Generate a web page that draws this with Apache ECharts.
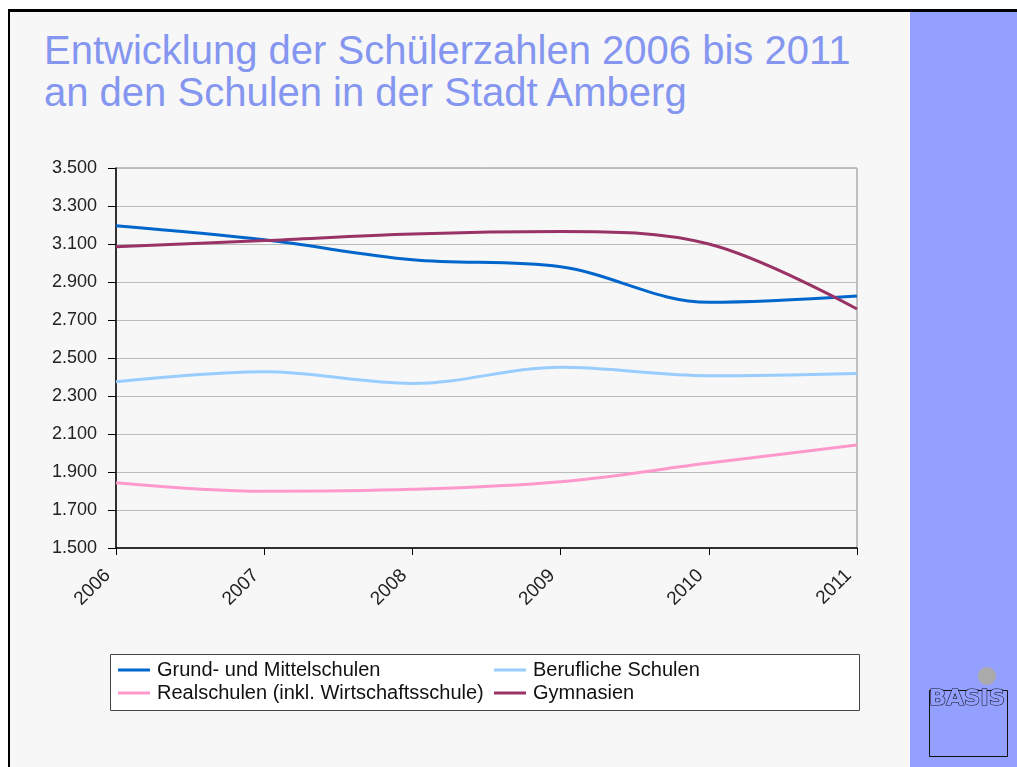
<!DOCTYPE html>
<html>
<head>
<meta charset="utf-8">
<script src="https://cdn.jsdelivr.net/npm/echarts@6/dist/echarts.min.js"></script>
<style>
  html, body { margin: 0; padding: 0; background: #fff; }
  #page { position: relative; width: 1017px; height: 767px; overflow: hidden; background: #fff; }
  #frame { position: absolute; left: 8px; top: 9px; right: 0; bottom: 0;
           border-left: 2px solid #000; border-top: 3px solid #000; background: #f7f7f7; }
  #strip { position: absolute; left: 910px; top: 12px; right: 0; bottom: 0; background: #94a0ff; }
  #title { position: absolute; left: 44px; top: 29px; margin: 0;
           font: 40px "Liberation Sans", Arial, sans-serif; line-height: 42px; color: #8496f0; font-weight: normal; }
  #chart { position: absolute; left: 0; top: 0; width: 1017px; height: 767px; }
</style>
</head>
<body>
<div id="page">
  <div id="frame"></div>
  <div id="strip"></div>
  <h1 id="title">Entwicklung der Schülerzahlen 2006 bis 2011<br>an den Schulen in der Stadt Amberg</h1>
  <div id="chart"></div>
</div>
<script>
// Schülerzahlen je Schulart
const years = ['2006', '2007', '2008', '2009', '2010', '2011'];
const grundMittel = [3196, 3122, 3017, 2980, 2793, 2826];
const beruflich = [2375, 2428, 2366, 2451, 2407, 2419];
const realschulen = [1844, 1799, 1809, 1849, 1947, 2042];
const gymnasien = [3086, 3118, 3153, 3166, 3100, 2758];

const names = ['Grund- und Mittelschulen', 'Berufliche Schulen',
               'Realschulen (inkl. Wirtschaftsschule)', 'Gymnasien'];
const colors = ['#0066cc', '#99ccff', '#ff99cc', '#993366'];

const font = '"Liberation Sans", Arial, sans-serif';

function fmt(v) {
    return String(v).replace(/\B(?=(\d{3})+(?!\d))/g, '.');
}

const myChart = echarts.init(document.getElementById('chart'));

function line(name, data, color) {
    return {
        name: name,
        type: 'line',
        data: data,
        smooth: 0.35,
        symbol: 'none',
        lineStyle: { width: 3, color: color },
        itemStyle: { color: color }
    };
}

const legendCommon = {
    orient: 'vertical',
    top: 660,
    padding: 0,
    itemGap: 3,
    itemWidth: 32,
    itemHeight: 3,
    icon: 'rect',
    textStyle: { fontFamily: font, fontSize: 20, color: '#111', padding: [0, 0, 0, 2] }
};

const option = {
    backgroundColor: 'transparent',
    animation: false,
    color: colors,
    grid: {
        left: 116, right: 160, top: 168, bottom: 219,
        show: true, borderColor: '#888', borderWidth: 1
    },
    xAxis: {
        type: 'category',
        data: years,
        boundaryGap: false,
        axisLine: { lineStyle: { color: '#000', width: 1.5 } },
        axisTick: { show: true, length: 7, lineStyle: { color: '#000' } },
        axisLabel: { rotate: 45, margin: 16, padding: [0, 12, 0, 0], fontFamily: font, fontSize: 19, color: '#222' },
        splitLine: { show: false }
    },
    yAxis: {
        type: 'value',
        min: 1500,
        max: 3500,
        interval: 200,
        axisLine: { show: true, lineStyle: { color: '#000', width: 1.5 } },
        axisTick: { show: true, length: 8, lineStyle: { color: '#000' } },
        axisLabel: { margin: 19, fontFamily: font, fontSize: 18, color: '#222', formatter: fmt },
        splitLine: { lineStyle: { color: '#bbb', width: 1 } }
    },
    legend: [
        Object.assign({}, legendCommon, { left: 118, data: [names[0], names[2]] }),
        Object.assign({}, legendCommon, { left: 494, data: [names[1], names[3]] })
    ],
    graphic: [
        {
            type: 'rect', z: -1,
            shape: { x: 110.5, y: 654.5, width: 749, height: 56 },
            style: { fill: '#fff', stroke: '#444', lineWidth: 1 }
        },
        {
            type: 'circle',
            shape: { cx: 987, cy: 676, r: 9 },
            style: { fill: '#aaa' }
        },
        {
            type: 'rect',
            shape: { x: 929.5, y: 690.5, width: 78, height: 66 },
            style: { fill: 'none', stroke: '#111', lineWidth: 1 }
        },
        {
            type: 'text',
            x: 929, y: 688,
            scaleX: 1.15,
            style: {
                text: 'BASIS',
                font: 'bold 22px "DejaVu Sans Condensed", sans-serif',
                fill: '#94a0ff', stroke: '#111', lineWidth: 1
            }
        }
    ],
    series: [
        line(names[0], grundMittel, colors[0]),
        line(names[1], beruflich, colors[1]),
        line(names[2], realschulen, colors[2]),
        line(names[3], gymnasien, colors[3])
    ]
};

myChart.setOption(option);
</script>
</body>
</html>
